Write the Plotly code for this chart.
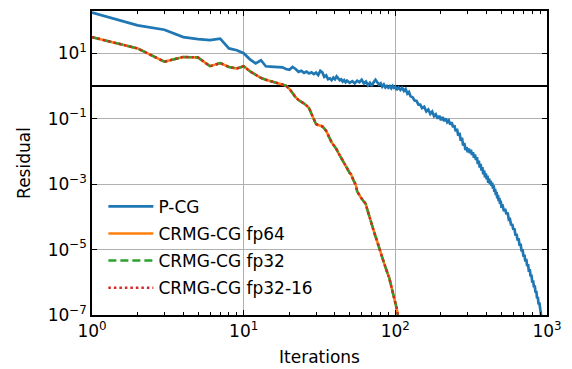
import plotly.graph_objects as go

# ---------------- data ----------------
PCG_POINTS = [
    (1, 175), (2, 71), (3, 52), (4, 31), (5, 27), (6, 25), (7, 28), (8, 14), (9, 12.3), (10, 10),
    (11, 6.5), (12, 4.9), (13, 6.1), (14, 4.0), (15, 3.9), (16, 3.8), (17, 3.6), (18, 3.7), (19, 3.3),
    (20, 3.1), (21, 3.8), (22, 3.3), (23, 2.7), (24, 2.9), (25, 2.5), (26, 2.75), (27, 2.4), (28, 2.6),
    (29, 2.3), (30, 2.55), (31, 2.15), (32, 2.9), (33, 2.6), (34, 1.9), (35, 2.1), (36, 1.6), (37, 1.7),
    (38, 1.5), (39, 1.8), (40, 1.6), (41, 1.95), (42, 1.7), (43, 1.5), (44, 1.6), (45, 1.35), (46, 1.5),
    (47, 1.3), (48, 1.45), (50, 1.25), (52, 1.4), (54, 1.2), (56, 1.45), (58, 1.3), (60, 1.55),
    (62, 1.2), (64, 1.35), (66, 1.05), (68, 1.25), (70, 1.0), (72, 1.3), (74, 1.55), (76, 1.3),
    (78, 1.1), (80, 1.2), (82, 0.95), (84, 1.1), (86, 0.9), (88, 1.0), (90, 0.88), (92, 0.98),
    (94, 0.85), (96, 1.0), (98, 0.88), (100, 0.95), (102, 0.75), (105, 0.9), (108, 0.76), (111, 0.88),
    (114, 0.7), (117, 0.8), (120, 0.58), (123, 0.65), (126, 0.48), (130, 0.45), (134, 0.36),
    (138, 0.35), (142, 0.27), (146, 0.27), (150, 0.21), (155, 0.23), (160, 0.165), (165, 0.19),
    (170, 0.14), (175, 0.165), (180, 0.12), (185, 0.135), (190, 0.1), (195, 0.122), (200, 0.09),
    (205, 0.112), (210, 0.084), (215, 0.102), (220, 0.078), (225, 0.088), (230, 0.066), (235, 0.078),
    (240, 0.055), (245, 0.063), (250, 0.041), (255, 0.049), (260, 0.03), (265, 0.037), (270, 0.021),
    (275, 0.026), (280, 0.015), (285, 0.018), (290, 0.011), (295, 0.0135), (300, 0.0094),
    (305, 0.0122), (310, 0.0088), (315, 0.0112), (320, 0.0078), (325, 0.0094), (330, 0.0064),
    (335, 0.008), (340, 0.0054), (345, 0.0066), (350, 0.0041), (355, 0.0052), (360, 0.0032),
    (365, 0.0041), (370, 0.0026), (375, 0.0033), (380, 0.002), (385, 0.0026), (390, 0.0016),
    (395, 0.0021), (400, 0.0014), (405, 0.0018), (410, 0.0011), (415, 0.0015), (420, 0.001),
    (425, 0.00128), (430, 0.00088), (435, 0.0011), (440, 0.00073), (445, 0.00092), (450, 0.00058),
    (455, 0.00072), (460, 0.00046), (465, 0.00058), (470, 0.00037), (475, 0.00047), (480, 0.0003),
    (485, 0.00038), (490, 0.00025), (495, 0.00031), (500, 0.00021), (510, 0.00022), (520, 0.00015),
    (530, 0.000175), (540, 0.00012), (550, 0.000135), (560, 0.000082), (570, 0.000085),
    (580, 0.000055), (590, 0.00006), (600, 0.00004), (610, 0.000044), (620, 0.000027),
    (630, 0.00003), (640, 0.000019), (650, 0.000022), (660, 0.000013), (670, 0.000015),
    (680, 0.0000088), (690, 0.0000102), (700, 0.0000061), (710, 0.000007), (720, 0.0000043),
    (730, 0.0000052), (740, 0.0000031), (750, 0.0000036), (760, 0.0000021), (770, 0.0000025),
    (780, 0.0000015), (790, 0.0000017), (800, 0.00000098), (810, 0.00000115), (820, 0.0000007),
    (830, 0.0000008), (840, 0.00000048), (850, 0.00000055), (860, 0.00000032), (870, 0.00000036),
    (880, 0.00000021), (890, 0.00000024), (900, 0.00000014), (910, 0.00000012), (920, 0.00000008),
]
PCG_ITER = [p[0] for p in PCG_POINTS]
PCG_RES = [p[1] for p in PCG_POINTS]

CRMG_ITER = list(range(1, 106))
CRMG_FP64 = [31, 14, 5.5, 7.7, 7.4, 4.0, 5.0, 3.8, 3.4, 4.0, 2.8, 2.2, 1.75, 1.55, 1.4, 1.25,
             1.15, 1.1, 1.02, 0.82, 0.6, 0.45, 0.37, 0.33, 0.29, 0.25, 0.21, 0.14, 0.09, 0.068,
             0.064, 0.061, 0.058, 0.05, 0.042, 0.032, 0.024, 0.019, 0.016, 0.0138, 0.0115,
             0.0092, 0.0075, 0.0064, 0.0052, 0.0044, 0.0037, 0.0031, 0.0026, 0.0022, 0.002,
             0.0017, 0.0013, 0.0011, 9e-4, 6e-4, 5e-4, 4.6e-4, 4e-4, 3.5e-4, 3.1e-4, 2.9e-4,
             2.7e-4, 2.4e-4, 1.8e-4, 1.4e-4, 1.15e-4, 9e-5, 7e-5, 5.5e-5, 4.5e-5, 3.6e-5,
             3e-5, 2.5e-5, 2.1e-5, 1.7e-5, 1.4e-5, 1.1e-5, 9e-6, 7.5e-6, 6.2e-6, 5.2e-6,
             4.6e-6, 4e-6, 3.4e-6, 2.9e-6, 2.4e-6, 2.1e-6, 1.8e-6, 1.6e-6, 1.4e-6, 1.15e-6,
             9.5e-7, 8e-7, 6.6e-7, 5.4e-7, 4.6e-7, 3.8e-7, 3.1e-7, 2.5e-7, 2e-7, 1.6e-7,
             1.25e-7, 1.0e-7, 8e-8]
# fp32 and fp32-16 runs are indistinguishable from fp64 in the figure
CRMG_FP32 = list(CRMG_FP64)
CRMG_FP32_16 = list(CRMG_FP64)

THRESHOLD = 1.0
X_LIMITS = [1, 1000]
X_TICKS = [1, 10, 100, 1000]
X_TICKTEXT = ["10<sup>0</sup>", "10<sup>1</sup>", "10<sup>2</sup>", "10<sup>3</sup>"]
Y_TICKS = [1e1, 1e-1, 1e-3, 1e-5, 1e-7]
Y_TICKTEXT = ["10<sup>1</sup>", "10<sup>−1</sup>", "10<sup>−3</sup>", "10<sup>−5</sup>", "10<sup>−7</sup>"]
X_MINOR = [m * 10 ** e for e in range(0, 3) for m in range(2, 10)]

FONT = "DejaVu Sans"
FS = 17

fig = go.Figure()
fig.add_trace(go.Scatter(x=X_LIMITS, y=[THRESHOLD, THRESHOLD], mode="lines",
                         line=dict(color="black", width=2), showlegend=False, hoverinfo="skip"))
fig.add_trace(go.Scatter(x=PCG_ITER, y=PCG_RES, mode="lines", name="P-CG", legendgroup="a",
                         line=dict(color="#1f77b4", width=2.7)))
fig.add_trace(go.Scatter(x=CRMG_ITER, y=CRMG_FP64, mode="lines", name="CRMG-CG fp64", legendgroup="b",
                         line=dict(color="#ff7f0e", width=2.5)))
fig.add_trace(go.Scatter(x=CRMG_ITER, y=CRMG_FP32, mode="lines", name="CRMG-CG fp32", legendgroup="c",
                         line=dict(color="#2ca02c", width=2.5, dash="8px,4px")))
fig.add_trace(go.Scatter(x=CRMG_ITER, y=CRMG_FP32_16, mode="lines", name="CRMG-CG fp32-16", legendgroup="d",
                         line=dict(color="#d62728", width=2.5, dash="2.5px,3px")))

axis_common = dict(
    showline=True, linecolor="black", linewidth=1.5, mirror="allticks",
    ticks="inside", ticklen=5, tickwidth=1.2, tickcolor="black",
    showgrid=True, gridcolor="#b0b0b0", gridwidth=1.3, zeroline=False,
    tickfont=dict(family=FONT, size=FS, color="black"), automargin=False,
)
fig.update_xaxes(type="log", range=[0, 3], tickmode="array", tickvals=X_TICKS, ticktext=X_TICKTEXT,
                 title=dict(text="Iterations", font=dict(family=FONT, size=FS, color="black"), standoff=11),
                 minor=dict(tickmode="array", tickvals=X_MINOR, ticks="inside", ticklen=3,
                            tickwidth=1, tickcolor="black", showgrid=False),
                 **axis_common)
fig.update_yaxes(type="log", range=[-7, 2.29], tickmode="array", tickvals=Y_TICKS, ticktext=Y_TICKTEXT,
                 title=dict(text="Residual", font=dict(family=FONT, size=FS, color="black"), standoff=13),
                 **axis_common)

fig.update_layout(
    width=572, height=369,
    margin=dict(l=92, r=25, t=11, b=54),
    paper_bgcolor="white", plot_bgcolor="white",
    font=dict(family=FONT, size=FS, color="black"),
    legend=dict(x=0.025, y=0.415, xanchor="left", yanchor="top", bgcolor="rgba(0,0,0,0)",
                font=dict(family=FONT, size=FS, color="black"), tracegroupgap=2,
                itemwidth=45),
    showlegend=True,
)

fig.write_html("out.html")
